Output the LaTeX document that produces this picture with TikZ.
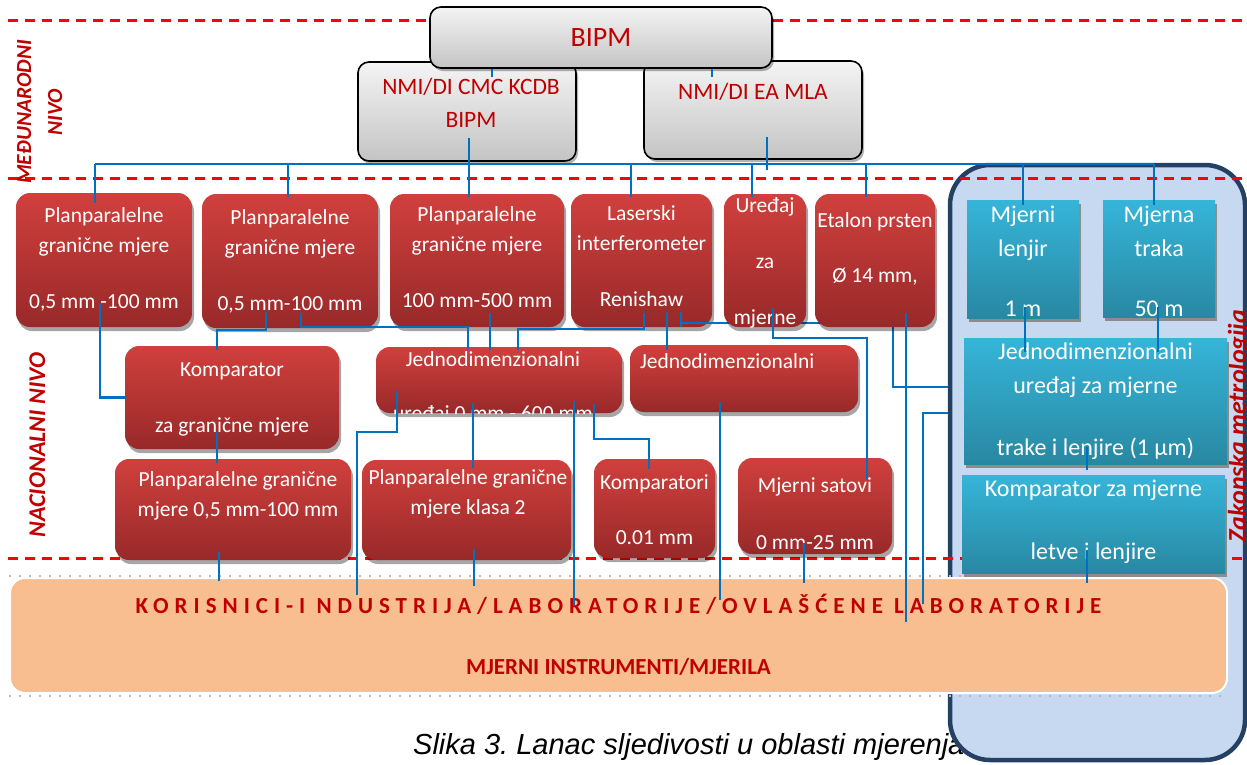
\documentclass[tikz,border=0pt]{standalone}
\usepackage{fontspec}
\setmainfont{Carlito}
\newfontfamily\capfont{Liberation Sans}
\newfontfamily\korfont{Carlito}[LetterSpace=26]
\usetikzlibrary{shadows}

\definecolor{redtop}{RGB}{208,64,61}
\definecolor{redbot}{RGB}{152,41,41}
\definecolor{graytop}{RGB}{244,244,244}
\definecolor{graybot}{RGB}{196,196,196}
\definecolor{cyantop}{RGB}{54,181,217}
\definecolor{cyanbot}{RGB}{40,136,162}
\definecolor{linkblue}{RGB}{0,112,192}
\definecolor{darkred}{RGB}{192,0,0}
\definecolor{zakfill}{RGB}{198,217,240}
\definecolor{zakline}{RGB}{36,64,98}
\definecolor{korfill}{RGB}{248,190,143}

% centred lines, first baseline = node base
\newcommand\lns[1]{\vtop{\halign{\hfil##\hfil\cr#1\crcr}}}
\newcommand\gap[1]{\noalign{\vskip#1}}

\begin{document}
\begin{tikzpicture}[x=1pt, y=-1pt,
    link/.style={draw=linkblue, line width=2.2pt},
    lvl/.style={draw=red, line width=3pt, dash pattern=on 10pt off 7pt},
    lvllbl/.style={text=darkred, rotate=90, anchor=base, inner sep=0pt},
    gbox/.style={rectangle, rounded corners=11pt, draw=black, line width=1.6pt, top color=graytop, bottom color=graybot, drop shadow={shadow xshift=2pt, shadow yshift=-3pt, fill=black, opacity=0.3}, inner sep=0pt},
    rbox/.style={rectangle, rounded corners=14pt, top color=redtop, bottom color=redbot, drop shadow={shadow xshift=2pt, shadow yshift=-4pt, fill=black, opacity=0.35}, inner sep=0pt},
    cbox/.style={rectangle, top color=cyantop, bottom color=cyanbot, drop shadow={shadow xshift=1.5pt, shadow yshift=-4pt, fill=black!45, opacity=1}, inner sep=0pt},
    ntx/.style={text=darkred, font=\fontsize{23.5}{33}\selectfont, inner sep=0pt, anchor=base},
    rtx/.style={text=white, font=\fontsize{21.5}{29.5}\selectfont, inner sep=0pt, anchor=base},
    ctx/.style={text=white, font=\fontsize{24}{33.5}\selectfont, inner sep=0pt, anchor=base},
  ]
  \useasboundingbox (0,0) rectangle (1247,764);

  \node[font=\capfont\itshape\fontsize{29}{34}\selectfont\frenchspacing, anchor=base west, inner sep=0pt] (cap) at (413,754) {Slika 3. Lanac sljedivosti u oblasti mjerenja};

  % zakonska metrologija
  \node[rectangle, rounded corners=40pt, draw=zakline, line width=4.5pt, fill=zakfill, minimum width=295pt, minimum height=595pt] (zak) at (1097.5,462.5) {};
  \node[lvllbl, font=\bfseries\itshape\fontsize{26}{30}\selectfont] (zakl) at (1246,426) {Zakonska metrologija};

  \foreach \y in {20,178,558}
    \draw[lvl] (8,\y) -- (1247,\y);

  % korisnici
  \node[rectangle, rounded corners=15pt, draw=white, line width=2pt, fill=korfill, minimum width=1217pt, minimum height=115pt] (kor) at (618.5,635.5) {};
  \node[text=darkred, font=\bfseries\fontsize{23}{30}\selectfont, inner sep=0pt, anchor=base] (kort) at ([yshift=-36pt]kor.north)
    {\lns{{\korfont\bfseries KORISNICI-I NDUSTRIJA/LABORATORIJE/OVLAŠĆENE LABORATORIJE}\cr\gap{31pt}MJERNI INSTRUMENTI/MJERILA}};
  \draw[gray!55, line width=1.2pt, dash pattern=on 2pt off 8pt] ([yshift=1pt]kor.north west) -- ([yshift=1pt]kor.north east);
  \draw[gray!55, line width=1.2pt, dash pattern=on 2pt off 8pt] ([yshift=-2pt]kor.south west) -- ([yshift=-2pt]kor.south east);

  % medjunarodni nivo
  \node[gbox, minimum width=218pt, minimum height=99pt] (cmc) at (467,111.5) {};
  \node[ntx] (cmct) at ([xshift=4pt,yshift=-33pt]cmc.north) {\lns{NMI/DI CMC KCDB\cr BIPM}};
  \node[gbox, minimum width=218pt, minimum height=98pt] (mla) at (753,110) {};
  \node[ntx] (mlat) at ([yshift=-39pt]mla.north) {NMI/DI EA MLA};
  \node[gbox, minimum width=342pt, minimum height=61pt, font=\fontsize{28}{34}\selectfont, text=darkred] (bipm) at (601,37.5) {BIPM};

  \node[lvllbl, font=\bfseries\itshape\fontsize{21.5}{26}\selectfont] (mlbl) at (31,112) {MEĐUNARODNI};
  \node[lvllbl, font=\bfseries\itshape\fontsize{21.5}{26}\selectfont] (mniv) at (62,112) {NIVO};
  \node[lvllbl, font=\bfseries\itshape\fontsize{24}{28}\selectfont] (nlbl) at (45,445) {NACIONALNI NIVO};

  % nacionalni nivo
  \node[rbox, minimum width=176pt, minimum height=134pt] (pg1) at (104,260) {};
  \node[rtx] (pg1t) at ([yshift=-30pt]pg1.north) {\lns{Planparalelne\cr granične mjere\cr\gap{26.5pt}0,5 mm -100 mm}};
  \node[rbox, minimum width=176pt, minimum height=134pt] (pg2) at (290,261) {};
  \node[rtx] (pg2t) at ([yshift=-31pt]pg2.north) {\lns{Planparalelne\cr granične mjere\cr\gap{26.5pt}0,5 mm-100 mm}};
  \node[rbox, minimum width=174pt, minimum height=133pt] (pg3) at (477,260.5) {};
  \node[rtx] (pg3t) at ([yshift=-28pt]pg3.north) {\lns{Planparalelne\cr granične mjere\cr\gap{26.5pt}100 mm-500 mm}};
  \node[rbox, minimum width=141pt, minimum height=133pt] (laser) at (641.5,260.5) {};
  \node[rtx] (lasert) at ([yshift=-27pt]laser.north) {\lns{Laserski\cr interferometer\cr\gap{26.5pt}Renishaw}};
  \draw[link] ([xshift=39.5pt,yshift=15pt]laser.south) -- ++(0,15);
  \draw[link] ([xshift=39.5pt,yshift=4pt]laser.south) -| ([xshift=-54.5pt,yshift=75.5pt]zak.west) -- ([yshift=75.5pt]zak.west);
  \node[rbox, minimum width=82pt, minimum height=133pt] (ured) at (765,260.5) {};
  \begin{scope}
    \clip[rounded corners=14pt] (ured.south west) rectangle (ured.north east);
    \node[rtx] (uredt) at ([yshift=-19pt]ured.north) {\lns{Uređaj\cr\gap{26.5pt}za\cr\gap{26.5pt}mjerne}};
  \end{scope}
  \node[rbox, minimum width=120pt, minimum height=133pt] (etalon) at (875,260.5) {};
  \node[rtx] (etalont) at ([yshift=-34pt]etalon.north) {\lns{Etalon prsten\cr\gap{25.5pt}Ø 14 mm,}};

  \node[rbox, minimum width=214pt, minimum height=103pt] (kgm) at (232,397.5) {};
  \node[rtx] (kgmt) at ([yshift=-31pt]kgm.north) {\lns{Komparator\cr\gap{26.5pt}za granične mjere}};
  \node[rbox, minimum width=246pt, minimum height=66pt] (jd1) at (499,380) {};
  \begin{scope}
    \clip[rounded corners=14pt] (jd1.south west) rectangle (jd1.north east);
    \node[rtx] (jd1t) at ([xshift=-6pt,yshift=-20pt]jd1.north) {\lns{Jednodimenzionalni\cr\gap{24.5pt}uređaj 0 mm - 600 mm}};
  \end{scope}
  \node[rbox, minimum width=228pt, minimum height=67pt] (jd2) at (744,378.5) {};
  \node[rtx, anchor=base west] (jd2t) at ([xshift=10pt,yshift=-24pt]jd2.north west) {Jednodimenzionalni};

  \node[rbox, minimum width=236pt, minimum height=101pt] (pgm) at (233,509.5) {};
  \node[rtx] (pgmt) at ([xshift=5pt,yshift=-28pt]pgm.north) {\lns{Planparalelne granične\cr mjere 0,5 mm-100 mm}};
  \node[rbox, minimum width=209pt, minimum height=100pt] (pgk) at (466.5,510) {};
  \node[rtx] (pgkt) at ([xshift=1.5pt,yshift=-25pt]pgk.north) {\lns{Planparalelne granične\cr mjere klasa 2}};
  \node[rbox, minimum width=121pt, minimum height=99pt] (komp) at (654.5,508.5) {};
  \begin{scope}
    \clip[rounded corners=14pt] (komp.south west) rectangle (komp.north east);
    \node[rtx] (kompt) at ([yshift=-31pt]komp.north) {\lns{Komparatori\cr\gap{25.5pt}0.01 mm}};
  \end{scope}
  \node[rbox, minimum width=154pt, minimum height=96pt] (satovi) at (815,506) {};
  \begin{scope}
    \clip[rounded corners=14pt] (satovi.south west) rectangle (satovi.north east);
    \node[rtx] (satovit) at ([yshift=-35pt]satovi.north) {\lns{Mjerni satovi\cr\gap{27.5pt}0 mm-25 mm}};
  \end{scope}

  \node[cbox, minimum width=112pt, minimum height=118pt] (lenjir) at (1023,259) {};
  \node[ctx] (lenjirt) at ([yshift=-23pt]lenjir.north) {\lns{Mjerni\cr lenjir\cr\gap{26.5pt}1 m}};
  \node[cbox, minimum width=112pt, minimum height=117pt] (traka) at (1159,258.5) {};
  \node[ctx] (trakat) at ([yshift=-23pt]traka.north) {\lns{Mjerna\cr traka\cr\gap{26.5pt}50 m}};
  \node[cbox, minimum width=263pt, minimum height=126pt] (jdc) at (1095.5,401) {};
  \node[ctx] (jdct) at ([yshift=-22pt]jdc.north) {\lns{Jednodimenzionalni\cr uređaj za mjerne\cr\gap{28.5pt}trake i lenjire (1 µm)}};
  \node[cbox, minimum width=263pt, minimum height=98pt] (kcm) at (1093.5,524) {};
  \node[ctx] (kcmt) at ([yshift=-22pt]kcm.north) {\lns{Komparator za mjerne\cr\gap{29.5pt}letve i lenjire}};

  % veze
  \coordinate (busL) at (95,164);
  \coordinate (busR) at (1154,164);
  \draw[link] ([xshift=-109pt]bipm.south) -- ++(0,8);
  \draw[link] ([xshift=111pt]bipm.south) -- ++(0,8);
  \draw[link] (busL) -- (busR);
  \draw[link] (busL) -- ++(0,39);
  \foreach \n/\dx in {pg2/-2pt, laser/-10.5pt, ured/-13pt, etalon/-9pt}
    \draw[link] ([xshift=\dx,yshift=-3pt]\n.north) -- ++(0,-33);
  \foreach \n/\dx in {lenjir/0pt, traka/-5pt}
    \draw[link] ([xshift=\dx,yshift=-5pt]\n.north) -- ++(0,-41);
  \draw[link] ([xshift=2pt,yshift=24pt]cmc.south) -- ([xshift=-8pt,yshift=-3pt]pg3.north);
  \draw[link] ([xshift=14pt,yshift=23pt]mla.south) -- ++(0,33);

  \draw[link] ([xshift=-4pt,yshift=24pt]pg1.south) |- (kgm.west);
  \draw[link] ([xshift=-24pt,yshift=16pt]pg2.south) -- ++(0,18) -| ([xshift=-15pt,yshift=-4pt]kgm.north);
  \draw[link] ([xshift=11pt,yshift=15pt]pg2.south) -- ++(0,14) -| ([xshift=-31pt,yshift=-2pt]jd1.north);
  \draw[link] ([xshift=13pt,yshift=14pt]pg3.south) -- ([xshift=-9pt,yshift=-3pt]jd1.north);
  \draw[link] ([xshift=2.5pt,yshift=14pt]laser.south) -- ++(0,16) -| ([xshift=19pt,yshift=-3pt]jd1.north);
  \draw[link] ([xshift=25.5pt,yshift=15pt]laser.south) -- ([xshift=-77pt,yshift=-5pt]jd2.north);
  \draw[link] ([xshift=8pt,yshift=19pt]ured.south) -- ++(0,30) -| ([xshift=52pt,yshift=-22pt]satovi.north);
  \draw[link] ([xshift=31pt,yshift=14pt]etalon.south) -- ++(0,309);
  \draw[link] ([yshift=49.5pt]zak.west) -| ([xshift=304.5pt,yshift=-27pt]kor.north);

  \draw[link] ([xshift=-26pt,yshift=10pt]jd1.south) -- ([xshift=6.5pt,yshift=-8pt]pgk.north);
  \draw[link] ([xshift=75pt,yshift=12pt]jd1.south) -- ++(0,204);
  \draw[link] ([xshift=95pt,yshift=9pt]jd1.south) -- ++(0,35) -| ([xshift=-5.5pt,yshift=-10pt]komp.north);
  \draw[link] ([xshift=-102pt,yshift=22pt]jd1.south) -- ++(0,41) -| ([xshift=-261.5pt,yshift=-18pt]kor.north);
  \draw[link] ([xshift=-24pt,yshift=10pt]jd2.south) -- ++(0,198);
  \draw[link] ([xshift=-15pt,yshift=17pt]kgm.south) -- ([xshift=-16pt,yshift=-4pt]pgm.north);
  \draw[link] ([xshift=-14pt,yshift=8pt]pgm.south) -- ++(0,29);
  \draw[link] ([xshift=7.5pt,yshift=11pt]pgk.south) -- ++(0,37);
  \draw[link] ([xshift=-11pt,yshift=11pt]satovi.south) -- ++(0,40);

  \draw[link] ([xshift=2pt,yshift=11pt]lenjir.south) -- ++(0,45);
  \draw[link] ([xshift=-1pt,yshift=10pt]traka.south) -- ++(0,45);
  \draw[link] ([xshift=-8.5pt,yshift=17pt]jdc.south) -- ++(0,23);
  \draw[link] ([xshift=-6.5pt,yshift=23pt]kcm.south) -- ++(0,33);
\end{tikzpicture}
\end{document}
